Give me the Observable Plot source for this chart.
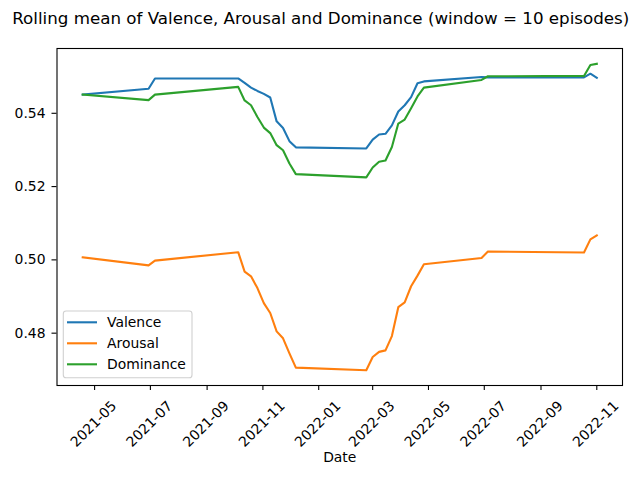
<!DOCTYPE html>
<html>
<head>
<meta charset="utf-8">
<script src="https://cdn.jsdelivr.net/npm/d3@7"></script>
<script src="https://cdn.jsdelivr.net/npm/@observablehq/plot@0.6"></script>
<style>
  html, body { margin: 0; padding: 0; background: #fff; }
  #chart { width: 640px; height: 480px; }
</style>
</head>
<body>
<div id="chart"></div>
<script>
// Rolling means (window = 10 episodes), one value per episode date
const dates = [
  "2021-04-18", "2021-06-29", "2021-07-06",
  "2021-10-05", "2021-10-12", "2021-10-19", "2021-10-26", "2021-11-02",
  "2021-11-09", "2021-11-16", "2021-11-23", "2021-11-30", "2021-12-07",
  "2022-02-22", "2022-03-01", "2022-03-08", "2022-03-15", "2022-03-22",
  "2022-03-29", "2022-04-05", "2022-04-12", "2022-04-19", "2022-04-26",
  "2022-06-28", "2022-07-05", "2022-10-18", "2022-10-25", "2022-11-01"
];

const valence = [
  0.5451, 0.5467, 0.5495,
  0.5495, 0.5483, 0.5470, 0.5461, 0.5453,
  0.5443, 0.5378, 0.5360, 0.5324, 0.5307,
  0.5304, 0.5328, 0.5342, 0.5344, 0.5367,
  0.5405, 0.5422, 0.5444, 0.5482, 0.5487,
  0.5499, 0.5498, 0.5498, 0.5508, 0.5497
];

const arousal = [
  0.5007, 0.4985, 0.4998,
  0.5021, 0.4968, 0.4955, 0.4923, 0.4882,
  0.4855, 0.4805, 0.4786, 0.4745, 0.4706,
  0.4699, 0.4735, 0.4749, 0.4753, 0.4792,
  0.4871, 0.4884, 0.4928, 0.4957, 0.4988,
  0.5005, 0.5023, 0.5020, 0.5056, 0.5067
];

const dominance = [
  0.5451, 0.5436, 0.5451,
  0.5472, 0.5435, 0.5422, 0.5390, 0.5361,
  0.5346, 0.5313, 0.5299, 0.5263, 0.5234,
  0.5225, 0.5252, 0.5268, 0.5271, 0.5308,
  0.5372, 0.5383, 0.5414, 0.5446, 0.5470,
  0.5491, 0.5501, 0.5502, 0.5532, 0.5535
];

const seriesNames = ["Valence", "Arousal", "Dominance"];
const seriesColors = ["#1f77b4", "#ff7f0e", "#2ca02c"];

const xTickLabels = [
  "2021-05", "2021-07", "2021-09", "2021-11", "2022-01",
  "2022-03", "2022-05", "2022-07", "2022-09", "2022-11"
];
const yTicks = [0.48, 0.50, 0.52, 0.54];

const titleText = "Rolling mean of Valence, Arousal and Dominance (window = 10 episodes)";
const xLabel = "Date";

// Long-format table for the line mark
const seriesValues = [valence, arousal, dominance];
const rows = [];
seriesNames.forEach((name, s) => {
  dates.forEach((d, i) => {
    rows.push({date: new Date(d), value: seriesValues[s][i], series: name});
  });
});

// Axis limits with 5% padding around the data extent
const pad = ([lo, hi]) => { const m = (hi - lo) * 0.05; return [lo - m, hi + m]; };
const tExtent = d3.extent(rows, r => +r.date);
const xDomain = pad(tExtent).map(t => new Date(t));
const yDomain = pad(d3.extent(rows, r => r.value));

const xTickDates = xTickLabels.map(s => new Date(s + "-01"));
const fmtMonth = d3.utcFormat("%Y-%m");

const FONT = "DejaVu Sans, sans-serif";

const svg = Plot.plot({
  width: 640,
  height: 480,
  marginLeft: 56.5,
  marginRight: 18,
  marginTop: 48,
  marginBottom: 95,
  style: {fontFamily: FONT, fontSize: "13.9px", background: "#fff", color: "#000", overflow: "visible"},
  x: {type: "utc", domain: xDomain},
  y: {domain: yDomain},
  color: {domain: seriesNames, range: seriesColors},
  marks: [
    Plot.line(rows, {x: "date", y: "value", z: "series", stroke: "series", strokeWidth: 2.1, strokeLinejoin: "round", strokeLinecap: "square"}),
    Plot.frame({stroke: "#000", strokeWidth: 1.1}),
    Plot.axisY(yTicks, {tickSize: 5, tickPadding: 6.5, tickFormat: d3.format(".2f"), label: null, fontSize: 13.9, strokeWidth: 1.1}),
    Plot.axisX(xTickDates, {tickSize: 5, tickFormat: () => "", label: null, strokeWidth: 1.1}),
    Plot.text(xTickDates, {x: d => d, text: d => fmtMonth(d), frameAnchor: "bottom", rotate: -45, textAnchor: "end", lineAnchor: "middle", dx: 19.6, dy: 18, fontSize: 13.9}),
    Plot.text([xLabel], {text: d => d, frameAnchor: "bottom", lineAnchor: "middle", dy: 72, fontSize: 13.9}),
    Plot.text([titleText], {text: d => d, frameAnchor: "top", lineAnchor: "middle", dx: -19, dy: -30.3, fontSize: 16.7})
  ]
});

// Legend box in the lower-left corner of the axes
const leg = d3.select(svg).append("g")
  .attr("font-family", FONT)
  .attr("font-size", 13.9)
  .attr("text-anchor", "start");
leg.append("rect")
  .attr("x", 63.3).attr("y", 311).attr("width", 128.7).attr("height", 66.7)
  .attr("rx", 2.8)
  .style("fill", "rgba(255,255,255,0.8)")
  .style("stroke", "#d0d0d0")
  .style("stroke-width", "1.1px");
seriesNames.forEach((name, i) => {
  const y = 322.3 + 21 * i;
  leg.append("line")
    .attr("x1", 67).attr("x2", 97).attr("y1", y).attr("y2", y)
    .style("stroke", seriesColors[i]).style("stroke-width", "2.1px");
  leg.append("text")
    .attr("x", 107).attr("y", y).attr("dy", "0.35em")
    .style("fill", "#000")
    .style("text-anchor", "start")
    .text(name);
});

document.getElementById("chart").appendChild(svg);
</script>
</body>
</html>
